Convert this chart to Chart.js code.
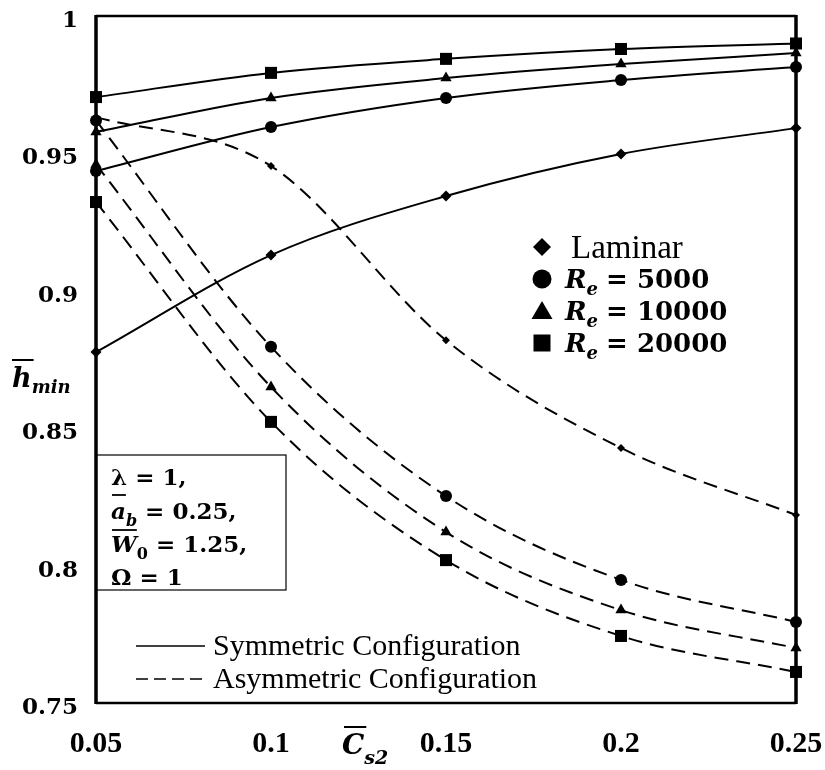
<!DOCTYPE html>
<html>
<head>
  <title>h_min vs C_s2</title>
  <script src="https://cdn.jsdelivr.net/npm/chart.js"></script>
  <style>
    html, body { margin: 0; padding: 0; background: #fff; }
    #wrap { width: 825px; height: 770px; position: relative; }
  </style>
</head>
<body>
  <div id="wrap"><canvas id="chart"></canvas></div>
<script>
  // x values (C_s2) and tick labels
  const xValues = [0.05, 0.1, 0.15, 0.2, 0.25];
  const xTickLabels = ['0.05', '0.1', '0.15', '0.2', '0.25'];
  const yTickValues = [0.75, 0.8, 0.85, 0.9, 0.95, 1];
  const yTickLabels = ['0.75', '0.8', '0.85', '0.9', '0.95', '1'];

  // symmetric configuration (solid)
  const symLaminar = [0.8777, 0.9130, 0.9345, 0.9498, 0.9592];
  const symRe5000 = [0.9436, 0.9596, 0.9702, 0.9767, 0.9814];
  const symRe10000 = [0.9578, 0.9702, 0.9774, 0.9825, 0.9865];
  const symRe20000 = [0.9705, 0.9793, 0.9844, 0.9880, 0.9900];

  // asymmetric configuration (dashed)
  const asymLaminar = [0.9632, 0.9454, 0.8820, 0.8428, 0.8184];
  const asymRe5000 = [0.9620, 0.8796, 0.8253, 0.7948, 0.7795];
  const asymRe10000 = [0.9460, 0.8650, 0.8122, 0.7838, 0.7700];
  const asymRe20000 = [0.9323, 0.8523, 0.8020, 0.7744, 0.7613];

  const seriesNames = ['Laminar', 'Re = 5000', 'Re = 10000', 'Re = 20000'];
  const markers = ['rectRot', 'circle', 'triangle', 'rect'];
  const markerSizes = [5.5, 6, 6.5, 8.5];

  function toPoints(arr) {
    return arr.map((v, i) => ({ x: xValues[i], y: v }));
  }

  function makeSet(label, values, idx, dashed) {
    return {
      label: label,
      data: toPoints(values),
      borderColor: '#000',
      backgroundColor: '#000',
      borderWidth: 2,
      borderDash: dashed ? [14, 8] : [],
      pointStyle: markers[idx],
      pointRadius: dashed && idx === 0 ? 4 : markerSizes[idx],
      pointBorderWidth: 0,
      cubicInterpolationMode: 'monotone',
      fill: false,
      clip: false
    };
  }

  const datasets = [
    makeSet('Sym ' + seriesNames[0], symLaminar, 0, false),
    makeSet('Sym ' + seriesNames[1], symRe5000, 1, false),
    makeSet('Sym ' + seriesNames[2], symRe10000, 2, false),
    makeSet('Sym ' + seriesNames[3], symRe20000, 3, false),
    makeSet('Asym ' + seriesNames[0], asymLaminar, 0, true),
    makeSet('Asym ' + seriesNames[1], asymRe5000, 1, true),
    makeSet('Asym ' + seriesNames[2], asymRe10000, 2, true),
    makeSet('Asym ' + seriesNames[3], asymRe20000, 3, true)
  ];

  // draw a small legend marker by hand
  function drawMarker(ctx, kind, x, y, s) {
    ctx.beginPath();
    if (kind === 'rectRot') {
      ctx.moveTo(x, y - s); ctx.lineTo(x + s, y); ctx.lineTo(x, y + s); ctx.lineTo(x - s, y);
    } else if (kind === 'circle') {
      ctx.arc(x, y, s, 0, Math.PI * 2);
    } else if (kind === 'triangle') {
      ctx.moveTo(x, y - s); ctx.lineTo(x + s * 1.05, y + s * 0.8); ctx.lineTo(x - s * 1.05, y + s * 0.8);
    } else {
      ctx.rect(x - s, y - s, 2 * s, 2 * s);
    }
    ctx.closePath();
    ctx.fill();
  }

  function barText(ctx, txt, x, y, font) {
    ctx.font = font;
    ctx.fillText(txt, x, y);
    return ctx.measureText(txt).width;
  }

  const decorations = {
    id: 'decorations',
    afterDraw(chart) {
      const ctx = chart.ctx;
      const a = chart.chartArea;
      ctx.save();
      ctx.fillStyle = '#000';
      ctx.strokeStyle = '#000';

      // frame
      ctx.lineWidth = 2.5;
      ctx.beginPath();
      ctx.moveTo(a.left, a.top); ctx.lineTo(a.right, a.top);
      ctx.moveTo(a.left, a.bottom); ctx.lineTo(a.right, a.bottom);
      ctx.stroke();
      ctx.lineWidth = 3.5;
      ctx.beginPath();
      ctx.moveTo(a.left, a.top - 1); ctx.lineTo(a.left, a.bottom + 1);
      ctx.moveTo(a.right, a.top - 1); ctx.lineTo(a.right, a.bottom + 1);
      ctx.stroke();

      ctx.textBaseline = 'alphabetic';
      ctx.textAlign = 'left';

      // y axis title: h-bar_min
      let w = barText(ctx, 'h', 12, 387, 'bold italic 27px "DejaVu Serif"');
      ctx.lineWidth = 2;
      ctx.beginPath(); ctx.moveTo(12, 360); ctx.lineTo(12 + w + 2, 360); ctx.stroke();
      barText(ctx, 'min', 12 + w, 393, 'bold italic 18px "DejaVu Serif"');

      // x axis title: C-bar_s2
      w = barText(ctx, 'C', 342, 754, 'bold italic 28px "DejaVu Serif"');
      ctx.beginPath(); ctx.moveTo(344, 727); ctx.lineTo(344 + w, 727); ctx.stroke();
      barText(ctx, 's2', 342 + w, 764, 'bold italic 19px "DejaVu Serif"');

      // marker legend
      const lx = 542;
      const rows = [247, 279, 311, 343];
      const sizes = [9, 9.5, 10, 8.5];
      rows.forEach((ry, i) => {
        drawMarker(ctx, markers[i], lx, ry, sizes[i]);
      });
      ctx.font = '33px "Liberation Serif"';
      ctx.fillText('Laminar', 571, 258);
      for (let i = 1; i < 4; i++) {
        const by = rows[i] + 9;
        let tx = 565;
        ctx.font = 'bold italic 26px "DejaVu Serif"';
        ctx.fillText('R', tx, by);
        tx += ctx.measureText('R').width;
        ctx.font = 'bold italic 18px "DejaVu Serif"';
        ctx.fillText('e', tx, by + 7);
        tx += ctx.measureText('e').width + 8;
        ctx.font = 'bold 26px "DejaVu Serif"';
        ctx.fillText('= ' + seriesNames[i].split('= ')[1], tx, by);
      }

      // parameter box
      ctx.lineWidth = 1.2;
      ctx.strokeRect(a.left, 455, 286 - a.left, 135);
      ctx.font = 'bold 23px "DejaVu Serif"';
      ctx.fillText('\u03bb = 1,', 111, 485);
      // a-bar_b
      w = barText(ctx, 'a', 111, 519, 'bold italic 23px "DejaVu Serif"');
      ctx.lineWidth = 1.8;
      ctx.beginPath(); ctx.moveTo(112, 495); ctx.lineTo(111 + w, 495); ctx.stroke();
      let w2 = barText(ctx, 'b', 111 + w, 526, 'bold italic 16px "DejaVu Serif"');
      ctx.font = 'bold 23px "DejaVu Serif"';
      ctx.fillText(' = 0.25,', 111 + w + w2, 519);
      // W-bar_0
      w = barText(ctx, 'W', 111, 552, 'bold italic 23px "DejaVu Serif"');
      ctx.beginPath(); ctx.moveTo(112, 530); ctx.lineTo(111 + w, 530); ctx.stroke();
      w2 = barText(ctx, '0', 111 + w, 559, 'bold 16px "DejaVu Serif"');
      ctx.font = 'bold 23px "DejaVu Serif"';
      ctx.fillText(' = 1.25,', 111 + w + w2, 552);
      ctx.fillText('\u03a9 = 1', 111, 585);

      // line style legend
      ctx.lineWidth = 1.5;
      ctx.setLineDash([]);
      ctx.beginPath(); ctx.moveTo(136, 646); ctx.lineTo(205, 646); ctx.stroke();
      ctx.setLineDash([12, 6]);
      ctx.beginPath(); ctx.moveTo(136, 679); ctx.lineTo(205, 679); ctx.stroke();
      ctx.setLineDash([]);
      ctx.font = '30px "Liberation Serif"';
      ctx.fillText('Symmetric Configuration', 213, 655);
      ctx.fillText('Asymmetric Configuration', 213, 688);

      ctx.restore();
    }
  };

  const ctx = document.getElementById('chart').getContext('2d');
  const chart = new Chart(ctx, {
    type: 'line',
    data: { datasets: datasets },
    options: {
      responsive: true,
      maintainAspectRatio: false,
      animation: false,
      layout: { padding: { left: 0, right: 29, top: 16, bottom: 0 } },
      plugins: {
        legend: { display: false },
        tooltip: { enabled: false }
      },
      scales: {
        x: {
          type: 'linear',
          min: 0.05,
          max: 0.25,
          grid: { display: false, drawTicks: false },
          border: { display: false },
          afterBuildTicks: (scale) => { scale.ticks = xValues.map(v => ({ value: v })); },
          afterFit: (scale) => {
            scale.height = 67;
            scale.paddingLeft = 0;
            scale.paddingRight = 0;
          },
          ticks: {
            color: '#000',
            padding: 23,
            maxRotation: 0,
            font: { family: '"Liberation Serif"', weight: 'bold', size: 30 },
            callback: (v) => xTickLabels[xValues.findIndex(x => Math.abs(x - v) < 1e-9)]
          }
        },
        y: {
          min: 0.75,
          max: 1,
          grid: { display: false, drawTicks: false },
          border: { display: false },
          afterBuildTicks: (scale) => { scale.ticks = yTickValues.map(v => ({ value: v })); },
          afterFit: (scale) => {
            scale.width = 96;
            scale.paddingTop = 0;
            scale.paddingBottom = 0;
          },
          ticks: {
            color: '#000',
            padding: 18,
            labelOffset: 5,
            font: { family: '"DejaVu Serif"', weight: 'bold', size: 23 },
            callback: (v) => yTickLabels[yTickValues.findIndex(y => Math.abs(y - v) < 1e-9)]
          }
        }
      }
    },
    plugins: [decorations]
  });
</script>
</body>
</html>
